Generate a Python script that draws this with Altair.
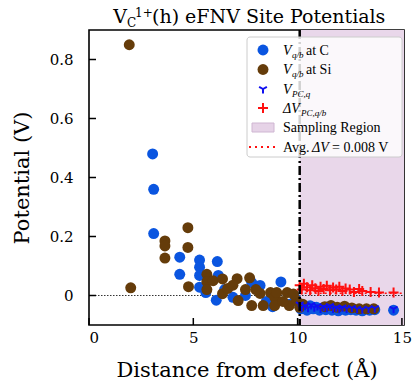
import altair as alt
import pandas as pd

# ---------------- data ----------------
c_x = [3.05, 3.1, 3.1, 4.35, 4.35, 5.3, 5.3, 5.3, 5.3, 6.15, 6.2, 6.1, 6.9, 7.8, 8.2, 8.8, 9.2,
       5.6, 6.5, 7.5, 8.5, 9.6, 9.9,
       10.1, 10.15, 10.3, 10.45, 10.6, 10.75, 10.9, 11.05, 11.2, 11.35, 11.5, 11.65, 11.8, 11.95,
       12.1, 12.3, 12.55, 12.8, 13.1, 13.45, 13.7, 14.6]
c_y = [0.48, 0.36, 0.21, 0.13, 0.072, 0.12, 0.096, 0.068, 0.028, 0.115, 0.068, -0.016, -0.006, 0.044, 0.034, -0.038, 0.046,
       0.01, 0.02, 0.0, -0.02, -0.03, -0.01,
       -0.03, -0.045, -0.038, -0.05, -0.035, -0.045, -0.04, -0.05, -0.042, -0.048, -0.038, -0.05, -0.045, -0.052,
       -0.046, -0.05, -0.048, -0.05, -0.052, -0.05, -0.048, -0.05]

si_x = [1.93, 2.0, 3.64, 3.64, 3.64, 4.74, 4.74, 4.77, 5.65, 5.65, 5.65, 5.95, 6.4, 6.4, 6.65, 7.1, 7.15,
        7.7, 7.8, 8.2, 8.35, 8.7, 8.9, 8.9, 9.0, 9.5, 9.6, 9.95, 9.3, 7.5, 8.0, 6.9, 9.8,
        10.1, 10.25, 11.3, 11.6, 11.9, 12.25, 12.6, 12.95, 13.3, 13.65]
si_y = [0.85, 0.026, 0.185, 0.168, 0.127, 0.23, 0.163, 0.03, 0.072, 0.047, 0.02, 0.05, 0.056, 0.006, 0.024, 0.057, -0.017,
        0.06, -0.034, 0.007, -0.034, 0.01, -0.006, -0.034, 0.01, 0.01, -0.034, -0.017, -0.02, 0.02, 0.02, 0.035, 0.005,
        -0.04, -0.03, -0.038, -0.034, -0.04, -0.036, -0.042, -0.045, -0.045, -0.045]

pc_x = [10.1, 10.2, 10.35, 10.5, 10.65, 10.8, 10.95, 11.1, 11.25, 11.4, 11.55, 11.7, 11.85, 12.0, 12.15,
        12.35, 12.6, 12.85, 13.1, 13.4, 13.7, 14.6]
pc_y = [-0.03, -0.04, -0.035, -0.042, -0.032, -0.04, -0.036, -0.044, -0.038, -0.042, -0.035, -0.044, -0.04, -0.045,
        -0.04, -0.044, -0.042, -0.045, -0.046, -0.044, -0.043, -0.045]

dv_x = [10.1, 10.2, 10.3, 10.45, 10.6, 10.7, 10.85, 11.0, 11.1, 11.25, 11.4, 11.55, 11.7, 11.85, 12.0,
        12.15, 12.3, 12.5, 12.7, 12.95, 13.1, 13.5, 13.9, 14.6]
dv_y = [0.035, 0.02, 0.04, 0.028, 0.018, 0.035, 0.025, 0.015, 0.03, 0.022, 0.033, 0.018, 0.027, 0.02, 0.03,
        0.015, 0.024, 0.02, 0.012, 0.022, 0.015, 0.012, 0.01, 0.01]

x_ticks = [0, 5, 10, 15]
y_ticks = [0, 0.2, 0.4, 0.6, 0.8]
sampling_start = 10.1
x_max = 15.1
y_min, y_max = -0.1, 0.9
avg_dv = 0.008

# ---------------- style ----------------
W, H = 315, 295
FONT = "DejaVu Serif"
LFONT = "Liberation Serif"
BLUE = "#0a55e0"
BROWN = "#653c0a"
PCBLUE = "#1010f0"
RED = "#ff1010"
SHADE = "#e9d7ea"

xs = alt.Scale(domain=[0, x_max], nice=False, zero=False)
ys = alt.Scale(domain=[y_min, y_max], nice=False, zero=False)

x_axis = alt.Axis(values=x_ticks, ticks=False, tickSize=0, grid=False, domain=False,
                  labelFont=FONT, labelFontSize=15, labelColor="black", labelPadding=5,
                  title="Distance from defect (Å)", titleFont=FONT, titleFontSize=21,
                  titleFontWeight="normal", titleColor="black", titlePadding=14)
y_axis = alt.Axis(values=y_ticks, ticks=False, tickSize=0, grid=False, domain=False,
                  labelFont=FONT, labelFontSize=15, labelColor="black", labelPadding=16,
                  labelExpr="datum.value == 0 ? '0' : format(datum.value, '.1f')",
                  title="Potential (V)", titleFont=FONT, titleFontSize=21,
                  titleFontWeight="normal", titleColor="black", titlePadding=17)


def X(f):
    return alt.X(f, scale=xs, axis=x_axis)


def Y(f):
    return alt.Y(f, scale=ys, axis=y_axis)


shade_df = pd.DataFrame({"x0": [sampling_start], "x1": [x_max]})
shade = alt.Chart(shade_df).mark_rect(color=SHADE).encode(
    x=X("x0:Q"), x2="x1:Q", y=Y("y0:Q"), y2="y1:Q",
).transform_calculate(y0=str(y_min), y1=str(y_max))

zero_line = alt.Chart(pd.DataFrame({"a": [0], "b": [x_max], "v": [0]})).mark_rule(
    color="black", strokeWidth=0.8, strokeDash=[1.5, 1.5]).encode(
    x=X("a:Q"), x2="b:Q", y=Y("v:Q"))

avg_line = alt.Chart(pd.DataFrame({"a": [sampling_start], "b": [x_max], "v": [avg_dv]})).mark_rule(
    color=RED, strokeWidth=1.5, strokeDash=[2, 3]).encode(
    x=X("a:Q"), x2="b:Q", y=Y("v:Q"))


def pts(xv, yv, color, shape="circle", size=120, filled=True, sw=0):
    df = pd.DataFrame({"x": xv, "y": yv})
    if filled:
        m = alt.Chart(df).mark_point(shape=shape, filled=True, size=size, color=color, opacity=1)
    else:
        m = alt.Chart(df).mark_point(shape=shape, filled=False, size=size, color=color,
                                     strokeWidth=sw, opacity=1)
    return m.encode(x=X("x:Q"), y=Y("y:Q"))


TRI = "M0,0L0,1M0,0L-0.87,-0.5M0,0L0.87,-0.5"
PLUS = "M-1,0L1,0M0,-1L0,1"

c_pts = pts(c_x, c_y, BLUE)
si_pts = pts(si_x, si_y, BROWN)
pc_pts = pts(pc_x, pc_y, PCBLUE, shape=TRI, size=80, filled=False, sw=2)
dv_pts = pts(dv_x, dv_y, RED, shape=PLUS, size=100, filled=False, sw=2)

vline = alt.Chart(pd.DataFrame({"v": [sampling_start]})).mark_rule(
    color="black", strokeWidth=2.5, strokeDash=[9, 3, 2, 3]).encode(x=X("v:Q"))

xtick = alt.Chart(pd.DataFrame({"t": x_ticks})).mark_rule(color="black", strokeWidth=1.5).encode(
    x=X("t:Q"), y=alt.value(H), y2=alt.value(H - 7))
ytick = alt.Chart(pd.DataFrame({"t": y_ticks})).mark_rule(color="black", strokeWidth=1.5).encode(
    y=Y("t:Q"), x=alt.value(0), x2=alt.value(7))

one = pd.DataFrame({"k": [0]})


def txt(s, x, y, size, font=FONT, italic=False, align="left"):
    return alt.Chart(one).mark_text(text=s, font=font, fontSize=size, align=align,
                                    baseline="alphabetic", color="black",
                                    fontStyle="italic" if italic else "normal").encode(
        x=alt.value(x), y=alt.value(y))


# title  V_C^{1+}(h) eFNV Site Potentials
title = [
    txt("V", 38, -7, 19, align="right"),
    txt("C", 38, -3, 12),
    txt("1+", 46, -13, 12),
    txt("(h) eFNV Site Potentials", 63, -7, 19),
]

# legend
LX0, LX1, LY0, LY1 = 158, 313, 7, 127
SX, TX = 174, 194
rows = [20, 39.5, 59, 78, 97.5, 117]
leg_box = alt.Chart(one).mark_rect(fill="white", fillOpacity=0.82, stroke="#cccccc",
                                   strokeWidth=1, cornerRadius=3).encode(
    x=alt.value(LX0), x2=alt.value(LX1), y=alt.value(LY0), y2=alt.value(LY1))


def sym(y, color, shape="circle", size=120, filled=True, sw=0):
    if filled:
        m = alt.Chart(one).mark_point(shape=shape, filled=True, size=size, color=color, opacity=1)
    else:
        m = alt.Chart(one).mark_point(shape=shape, filled=False, size=size, color=color,
                                      strokeWidth=sw, opacity=1)
    return m.encode(x=alt.value(SX), y=alt.value(y))


LS = 14
legend = [leg_box,
          sym(rows[0], BLUE), sym(rows[1], BROWN),
          sym(rows[2], PCBLUE, shape=TRI, size=80, filled=False, sw=2),
          sym(rows[3], RED, shape=PLUS, size=100, filled=False, sw=2),
          alt.Chart(one).mark_rect(fill="#e6d3e7", stroke="#cfb6d2", strokeWidth=1).encode(
              x=alt.value(SX - 11), x2=alt.value(SX + 11), y=alt.value(rows[4] - 4.5), y2=alt.value(rows[4] + 4.5)),
          alt.Chart(one).mark_rule(color=RED, strokeWidth=2, strokeDash=[2, 4]).encode(
              x=alt.value(SX - 14), x2=alt.value(SX + 12), y=alt.value(rows[5])),
          ]
b = 4.5
legend += [
    txt("V", TX, rows[0] + b, LS, LFONT, italic=True),
    txt("q/b", TX + 9, rows[0] + b + 3, 9, LFONT, italic=True),
    txt("at C", TX + 23, rows[0] + b, LS, LFONT),
    txt("V", TX, rows[1] + b, LS, LFONT, italic=True),
    txt("q/b", TX + 9, rows[1] + b + 3, 9, LFONT, italic=True),
    txt("at Si", TX + 23, rows[1] + b, LS, LFONT),
    txt("V", TX, rows[2] + b, LS, LFONT, italic=True),
    txt("PC,q", TX + 9, rows[2] + b + 3, 9, LFONT, italic=True),
    txt("ΔV", TX, rows[3] + b, LS, LFONT, italic=True),
    txt("PC,q/b", TX + 18, rows[3] + b + 3, 9, LFONT, italic=True),
    txt("Sampling Region", TX, rows[4] + b, LS, LFONT),
    txt("Avg.", TX, rows[5] + b, LS, LFONT),
    txt("ΔV", TX + 29, rows[5] + b, LS, LFONT, italic=True),
    txt("= 0.008 V", TX + 49, rows[5] + b, LS, LFONT),
]

chart = alt.layer(
    shade, zero_line, avg_line, c_pts, si_pts, pc_pts, dv_pts, vline, xtick, ytick,
    *legend, *title
).properties(
    width=W, height=H,
    autosize=alt.AutoSizeParams(type="none"),
    padding={"left": 89, "top": 30, "right": 8, "bottom": 67},
    background="white",
).configure_view(
    stroke="black", strokeWidth=1.6
)

chart.save("out.html", embed_options={"renderer": "svg", "actions": False})
